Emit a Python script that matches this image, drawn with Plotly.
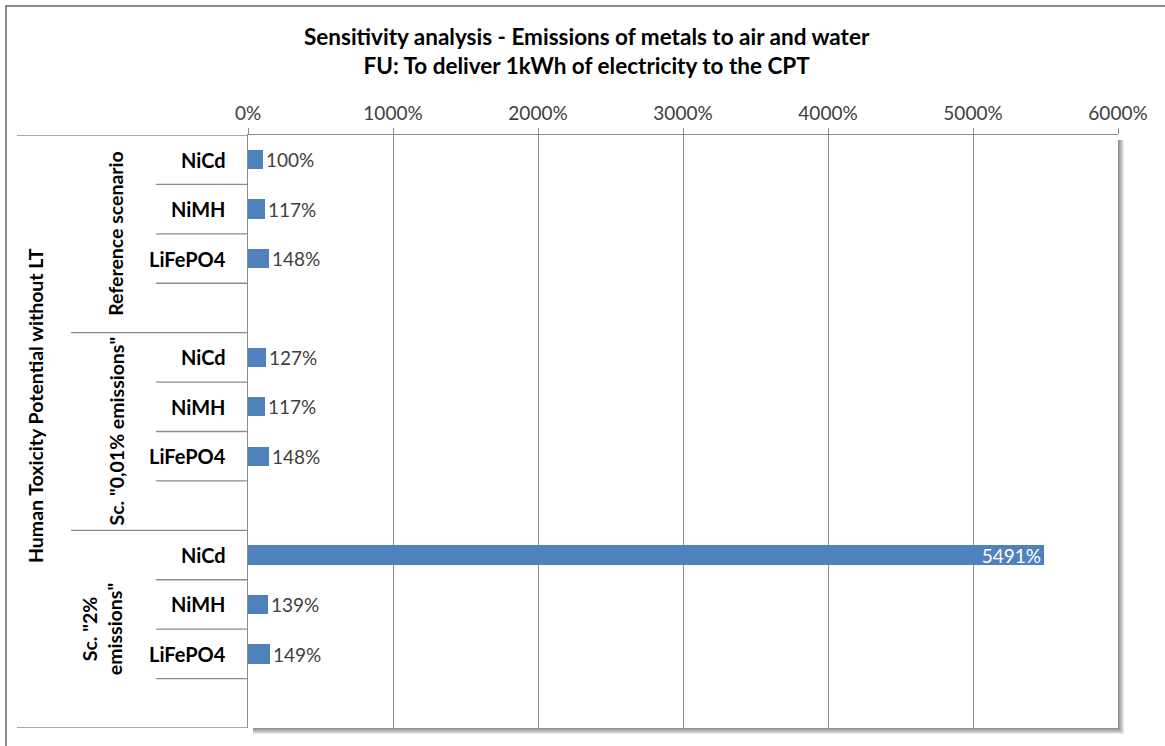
import plotly.graph_objects as go

# --- data -----------------------------------------------------------------
title_lines = ["Sensitivity analysis - Emissions of metals to air and water",
               "FU: To deliver 1kWh of electricity to the CPT"]
outer_label = "Human Toxicity Potential without LT"
scenarios = ["Reference scenario", 'Sc. "0,01% emissions"', 'Sc. "2%<br>emissions"']
batteries = ["NiCd", "NiMH", "LiFePO4"]
ref_values = [100, 117, 148]
sc001_values = [127, 117, 148]
sc2_values = [5491, 139, 149]
x_ticks = [0, 1000, 2000, 3000, 4000, 5000, 6000]

values_by_scenario = [ref_values, sc001_values, sc2_values]

# --- layout geometry (pixels) ---------------------------------------------
W, H = 1165, 746
PL, PR, PT, PB = 248, 1118, 135, 728


def px(x):
    return (x - PL) / (PR - PL)


def py(y):
    return (PB - y) / (PB - PT)


BAR_BLUE = "#4F81BD"
GRID = "#8c8c8c"
TXT = "#404040"
FONT = "Lato"

# category rows: three batteries plus one empty spacer row per scenario
rows, bar_rows, bar_vals, gap_rows = [], [], [], []
for s, vals in zip(scenarios, values_by_scenario):
    for b, v in zip(batteries, vals):
        key = f"{s}|{b}"
        rows.append(key)
        bar_rows.append(key)
        bar_vals.append(v)
    gap = f"{s}|"
    rows.append(gap)
    gap_rows.append(gap)

positions = ["inside" if v > 1000 else "outside" for v in bar_vals]

fig = go.Figure()
fig.add_trace(go.Bar(
    x=bar_vals, y=bar_rows, orientation="h", width=0.39,
    marker=dict(color=BAR_BLUE, line=dict(width=0)),
    text=[f"{v}%" for v in bar_vals], textposition=positions,
    insidetextanchor="end", constraintext="none",
    insidetextfont=dict(family=FONT, size=19, color="white"),
    outsidetextfont=dict(family=FONT, size=19, color=TXT),
    cliponaxis=False, hoverinfo="skip", showlegend=False,
))
# invisible points so the spacer rows exist on the category axis
fig.add_trace(go.Scatter(
    x=[0] * len(gap_rows), y=gap_rows, mode="markers",
    marker=dict(opacity=0), hoverinfo="skip", showlegend=False,
))

shapes = []
# outer chart frame
shapes.append(dict(type="rect", xref="paper", yref="paper",
                   x0=px(6), x1=px(1172), y0=py(6), y1=py(752),
                   line=dict(color="#8a8a8a", width=2), layer="below"))
# soft drop shadow behind the plot area
for k in range(1, 7):
    shapes.append(dict(type="rect", xref="paper", yref="paper",
                       x0=px(PL + 5), x1=px(PR + k), y0=py(PT + 5), y1=py(PB + k),
                       fillcolor="rgba(0,0,0,0.085)", line=dict(width=0), layer="below"))
shapes.append(dict(type="rect", xref="paper", yref="paper",
                   x0=0, x1=1, y0=0, y1=1,
                   fillcolor="white", line=dict(width=0), layer="below"))

# divider lines of the category axis
n = len(rows)
for i in range(n + 1):
    yb = i - 0.5
    if i == 0 or i == n:
        xs = 17
    elif i % 4 == 0:
        xs = 71
    else:
        xs = 156
    shapes.append(dict(type="line", xref="paper", yref="y",
                       x0=px(xs), x1=0, y0=yb, y1=yb,
                       line=dict(color=GRID, width=1.3)))

annotations = []
# title
annotations.append(dict(
    text="<br>".join(title_lines), xref="paper", yref="paper",
    x=px(587), y=py(51), xanchor="center", yanchor="middle",
    showarrow=False, align="center",
    font=dict(family=FONT, size=22.5, color="#000000", weight="bold"),
))
# battery labels
for key in bar_rows:
    annotations.append(dict(
        text=key.split("|")[1], xref="paper", yref="y", x=px(228), y=key,
        xanchor="right", yanchor="middle", showarrow=False,
        font=dict(family=FONT, size=20, color="#000000", weight="bold"),
    ))
# scenario labels, rotated
for g, s in enumerate(scenarios):
    annotations.append(dict(
        text=s, xref="paper", yref="y", x=px(116 if "<br>" not in s else 102),
        y=g * 4 + 1.5, textangle=-90, xanchor="center", yanchor="middle",
        showarrow=False, align="center",
        font=dict(family=FONT, size=19.5, color="#000000", weight="bold"),
    ))
# overall indicator label
annotations.append(dict(
    text=outer_label, xref="paper", yref="paper", x=px(35), y=py(406),
    textangle=-90, xanchor="center", yanchor="middle", showarrow=False,
    font=dict(family=FONT, size=19.5, color="#000000", weight="bold"),
))

fig.update_layout(
    width=W, height=H,
    margin=dict(l=PL, r=W - PR, t=PT, b=H - PB, pad=0),
    paper_bgcolor="white", plot_bgcolor="rgba(0,0,0,0)",
    bargap=0, showlegend=False,
    shapes=shapes, annotations=annotations,
    xaxis=dict(
        side="top", range=[0, 6000], tickvals=x_ticks,
        ticktext=[f"{t}%" for t in x_ticks],
        showgrid=True, gridcolor=GRID, gridwidth=1,
        showline=True, linecolor=GRID, linewidth=1.3,
        ticks="outside", ticklen=6, tickcolor=GRID,
        tickfont=dict(family=FONT, size=19, color=TXT),
        zeroline=False, fixedrange=True,
    ),
    yaxis=dict(
        type="category", categoryorder="array", categoryarray=rows,
        range=[n - 0.5, -0.5], showticklabels=False, ticks="",
        showgrid=False, zeroline=False,
        showline=True, linecolor=GRID, linewidth=1.3, fixedrange=True,
    ),
)

fig.write_html("out.html", config={"displayModeBar": False})
